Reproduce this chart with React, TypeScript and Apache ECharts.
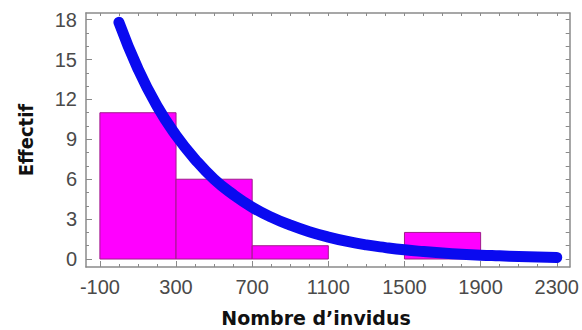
import { useEffect, useRef } from "react";
import * as echarts from "echarts";

const binStarts = [-100, 300, 700, 1100, 1500, 1900];
const binEnds = [300, 700, 1100, 1500, 1900, 2300];
const binCounts = [11, 6, 1, 0, 2, 0];

const curveX = [0, 100, 200, 300, 400, 500, 600, 700, 800, 900, 1000, 1100, 1200, 1300, 1400, 1500, 1600, 1700, 1800, 1900, 2000, 2100, 2200, 2300];
const curveY = [17.8, 14.3, 11.5, 9.3, 7.5, 6.0, 4.85, 3.9, 3.15, 2.55, 2.05, 1.65, 1.32, 1.06, 0.86, 0.69, 0.56, 0.45, 0.36, 0.29, 0.24, 0.19, 0.15, 0.12];

const xTickLabels = [-100, 300, 700, 1100, 1500, 1900, 2300];
const xMinorTicks = [-100, 0, 100, 200, 300, 400, 500, 600, 700, 800, 900, 1000, 1100, 1200, 1300, 1400, 1500, 1600, 1700, 1800, 1900, 2000, 2100, 2200, 2300];
const yTickLabels = [0, 3, 6, 9, 12, 15, 18];
const yMinorTicks = [0, 1, 2, 3, 4, 5, 6, 7, 8, 9, 10, 11, 12, 13, 14, 15, 16, 17, 18];

const X_MIN = -173;
const X_MAX = 2368;
const Y_MIN = -0.6;
const Y_MAX = 18.5;

const xTitle = "Nombre d\u2019invidus";
const yTitle = "Effectif";

export default function App() {
  const ref = useRef<HTMLDivElement>(null);
  useEffect(() => {
    if (!ref.current) return;
    const chart = echarts.init(ref.current, null, { renderer: "svg" });
    const lineColor = "#8a8a8a";
    const labelStyle = {
      fontFamily: "Liberation Sans, Arial, sans-serif",
      fontSize: 20,
      color: "#4a4a4a",
      formatter: (v: number) => String(v),
    };
    const bars = binStarts.map((s, i) => [s, binEnds[i], binCounts[i]]);
    const curve = curveX.map((x, i) => [x, curveY[i]]);
    const baseX = {
      type: "value",
      min: X_MIN,
      max: X_MAX,
      splitLine: { show: false },
    };
    const baseY = {
      type: "value",
      min: Y_MIN,
      max: Y_MAX,
      splitLine: { show: false },
    };
    const line = { show: true, onZero: false, lineStyle: { color: lineColor, width: 1.5 } };
    chart.setOption({
      animation: false,
      backgroundColor: "#ffffff",
      grid: { left: 86, right: 12, top: 13, bottom: 63 },
      xAxis: [
        {
          ...baseX,
          position: "bottom",
          axisLine: line,
          axisTick: { show: true, inside: true, length: 6, customValues: xTickLabels, lineStyle: { color: lineColor } },
          axisLabel: { show: true, margin: 10, customValues: xTickLabels, ...labelStyle },
        },
        {
          ...baseX,
          position: "bottom",
          axisLine: { show: false, onZero: false },
          axisTick: { show: true, inside: true, length: 3, customValues: xMinorTicks, lineStyle: { color: lineColor } },
          axisLabel: { show: false },
        },
        {
          ...baseX,
          position: "top",
          axisLine: line,
          axisTick: { show: true, inside: true, length: 3, customValues: xMinorTicks, lineStyle: { color: lineColor } },
          axisLabel: { show: false },
        },
      ],
      yAxis: [
        {
          ...baseY,
          position: "left",
          axisLine: line,
          axisTick: { show: true, inside: true, length: 6, customValues: yTickLabels, lineStyle: { color: lineColor } },
          axisLabel: { show: true, margin: 9, customValues: yTickLabels, ...labelStyle },
        },
        {
          ...baseY,
          position: "left",
          axisLine: { show: false, onZero: false },
          axisTick: { show: true, inside: true, length: 3, customValues: yMinorTicks, lineStyle: { color: lineColor } },
          axisLabel: { show: false },
        },
        {
          ...baseY,
          position: "right",
          axisLine: line,
          axisTick: { show: true, inside: true, length: 4, customValues: yMinorTicks, lineStyle: { color: lineColor } },
          axisLabel: { show: false },
        },
      ],
      series: [
        {
          type: "custom",
          xAxisIndex: 0,
          yAxisIndex: 0,
          data: bars,
          z: 2,
          renderItem: (params: any, api: any) => {
            const count = api.value(2);
            if (!count) return null;
            const tl = api.coord([api.value(0), count]);
            const br = api.coord([api.value(1), 0]);
            return {
              type: "rect",
              shape: { x: tl[0], y: tl[1], width: br[0] - tl[0], height: br[1] - tl[1] },
              style: { fill: "#ff00ff", stroke: "#a01a8c", lineWidth: 1 },
            };
          },
        },
        {
          type: "line",
          xAxisIndex: 0,
          yAxisIndex: 0,
          data: curve,
          smooth: true,
          showSymbol: false,
          symbol: "none",
          z: 3,
          lineStyle: { color: "#0a0af0", width: 11, cap: "round", join: "round" },
        },
      ],
      graphic: [
        {
          type: "text",
          x: 26,
          y: 140,
          rotation: Math.PI / 2,
          style: {
            text: yTitle,
            font: "bold 20px 'DejaVu Sans Condensed', 'DejaVu Sans', sans-serif",
            fill: "#111111",
            align: "center",
            verticalAlign: "middle",
          },
        },
        {
          type: "text",
          x: 316,
          y: 318,
          style: {
            text: xTitle,
            font: "bold 19px 'DejaVu Sans', sans-serif",
            fill: "#111111",
            align: "center",
            verticalAlign: "middle",
          },
        },
      ],
    });
    return () => chart.dispose();
  }, []);
  return (
    <div
      ref={ref}
      style={{ position: "fixed", left: 0, top: 0, width: 582, height: 330 }}
    />
  );
}
